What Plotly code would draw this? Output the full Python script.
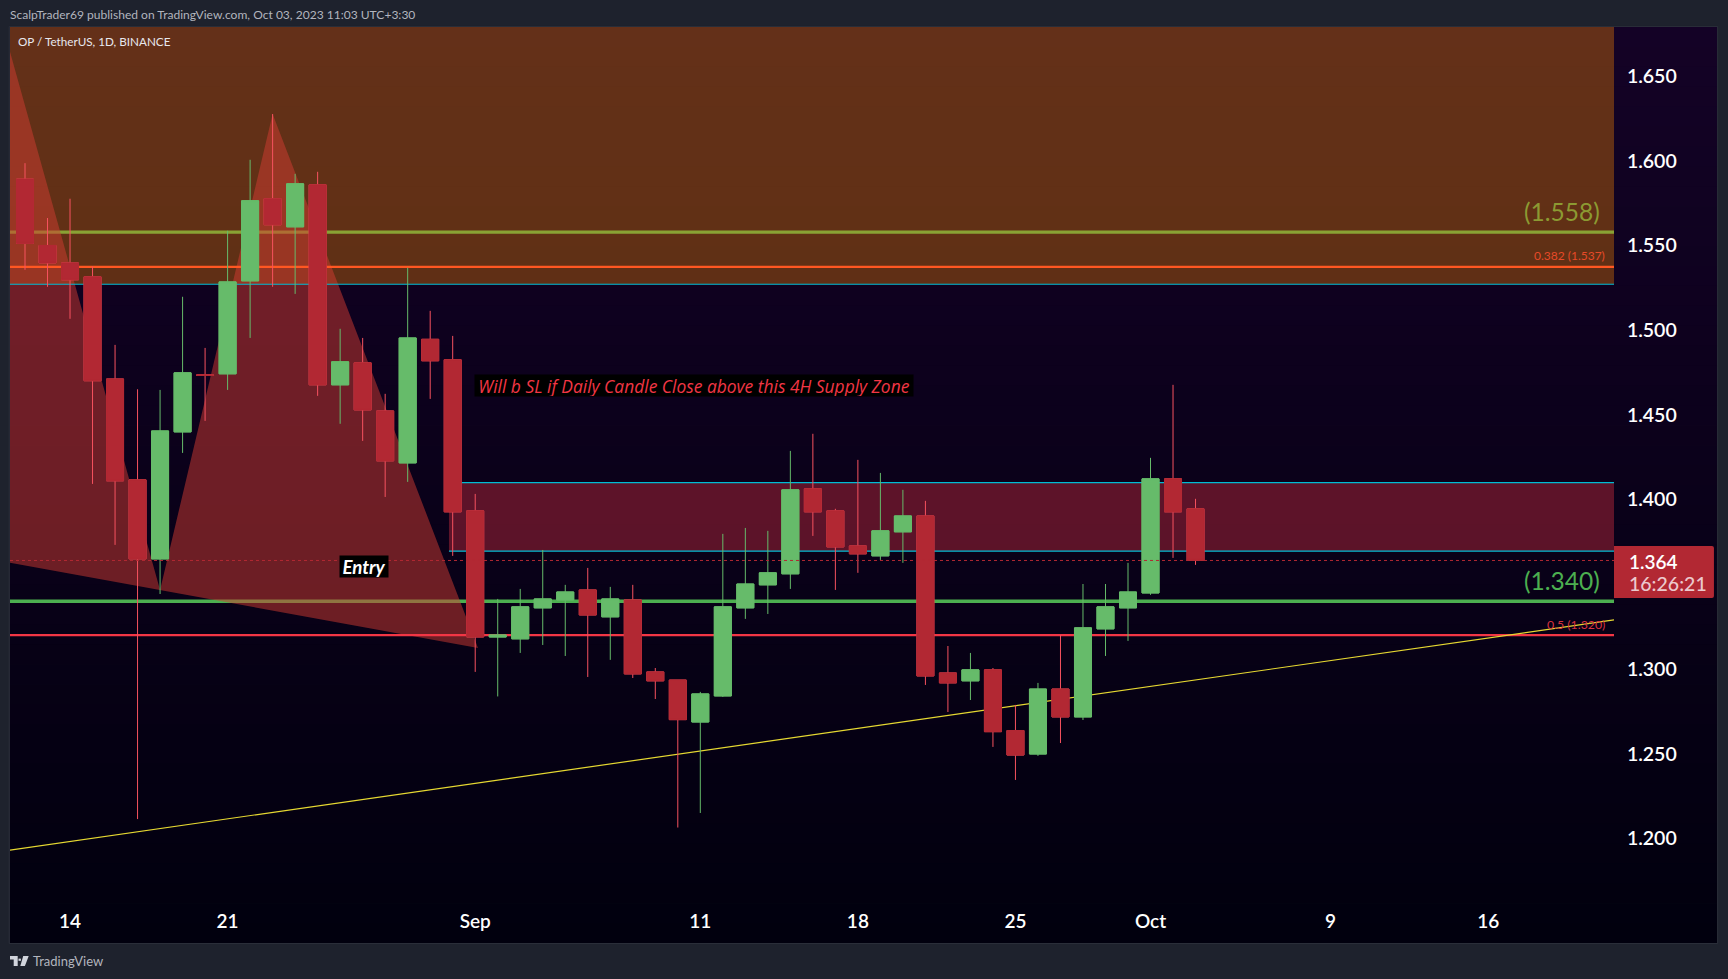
import plotly.graph_objects as go

# ---------- data ----------
dates = ["2023-08-%02d" % d for d in range(12, 32)] + ["2023-09-%02d" % d for d in range(1, 31)] + ["2023-10-%02d" % d for d in range(1, 4)]
highs = [1.5987,1.5663,1.5777,1.5377,1.4914,1.4652,1.4648,1.5198,1.4896,1.5588,1.6007,1.6277,1.5924,1.5936,1.5009,1.4955,1.4625,1.5369,1.5115,1.4967,
         1.4034,1.3414,1.3473,1.3703,1.3497,1.3597,1.3485,1.3497,1.3006,1.2935,1.2865,1.3798,1.3833,1.3816,1.4288,1.4389,1.3946,1.4235,1.4158,1.4058,
         1.3993,1.3136,1.3095,1.3006,1.2788,1.2918,1.3201,1.3502,1.3502,1.3627,1.4247,1.4678,1.4005]
opens = [1.5893,1.5501,1.5398,1.5316,1.4713,1.4117,1.3650,1.4400,1.4737,1.4743,1.5292,1.5777,1.5611,1.5859,1.4678,1.4808,1.4524,1.4217,1.4947,1.4826,
         1.3934,1.3189,1.3178,1.3361,1.3408,1.3467,1.3308,1.3408,1.2983,1.2935,1.2687,1.2841,1.3361,1.3497,1.3562,1.4064,1.3934,1.3727,1.3668,1.3810,
         1.3904,1.2977,1.2930,1.2995,1.2637,1.2498,1.2882,1.2717,1.3237,1.3361,1.3449,1.4123,1.3946]
closes = [1.5513,1.5398,1.5298,1.4702,1.4111,1.3650,1.4406,1.4749,1.4734,1.5286,1.5765,1.5623,1.5865,1.4678,1.4814,1.4530,1.4229,1.4955,1.4820,1.3928,
          1.3189,1.3201,1.3367,1.3414,1.3455,1.3319,1.3414,1.2971,1.2930,1.2701,1.2853,1.3367,1.3502,1.3568,1.4058,1.3928,1.3721,1.3680,1.3816,1.3904,
          1.2959,1.2918,1.2995,1.2630,1.2492,1.2882,1.2717,1.3243,1.3367,1.3455,1.4123,1.3928,1.3641]
lows = [1.5357,1.5257,1.5068,1.4093,1.3733,1.2114,1.3443,1.4276,1.4465,1.4648,1.4955,1.5257,1.5215,1.4613,1.4448,1.4347,1.4016,1.4105,1.4595,1.3668,
        1.2983,1.2838,1.3095,1.3142,1.3077,1.2953,1.3054,1.2947,1.2823,1.2064,1.2150,1.2835,1.3296,1.3325,1.3473,1.3786,1.3467,1.3568,1.3644,1.3627,
        1.2906,1.2746,1.2817,1.2540,1.2345,1.2487,1.2563,1.2699,1.3077,1.3166,1.3438,1.3656,1.3615]

y_ticks = [1.20,1.25,1.30,1.40,1.45,1.50,1.55,1.60,1.65]
y_tick_labels = ["1.200","1.250","1.300","1.400","1.450","1.500","1.550","1.600","1.650"]
x_ticks = ["2023-08-14","2023-08-21","2023-09-01","2023-09-11","2023-09-18","2023-09-25","2023-10-01","2023-10-09","2023-10-16"]
x_tick_labels = ["14","21","Sep","11","18","25","Oct","9","16"]

level_green_hi = 1.558
level_fib_382 = 1.5375
level_zone_hi_bottom = 1.5272
level_supply_top = 1.4101
level_supply_bottom = 1.3696
level_green_lo = 1.340
level_fib_5 = 1.320
last_price = 1.3641

pattern_dates = ["2023-08-11_08:00","2023-08-18","2023-08-23","2023-09-01_03:00","2023-08-11_08:00"]
pattern_prices = [1.6645,1.3467,1.6277,1.3124,1.3628]
trend_dates = ["2023-08-11 08:00","2023-10-21 14:10"]
trend_prices = [1.1931,1.3290]
supply_start = "2023-08-30 20:00"

# ---------- layout frame ----------
W, H = 1728, 979
L, R, T, B = 10.3, 1613.6, 27.3, 899.0
X_RANGE = ["2023-08-11 08:00", "2023-10-21 14:10"]
Y_RANGE = [1.1642, 1.6791]
FONT = "Lato"
def px(x): return (x - L) / (R - L)
def py(y): return 1 - (y - T) / (B - T)

shapes = []
# vertical background gradient of the chart panel
top_c, bot_c = (20, 2, 38), (1, 0, 14)
PT, PB, PR = 27.3, 943.0, 1716.7
N = 46
for i in range(N):
    f = i / (N - 1)
    c = tuple(round(a + (b - a) * f) for a, b in zip(top_c, bot_c))
    y0 = PT + (PB - PT) * i / N
    y1 = PT + (PB - PT) * (i + 1) / N + 0.6
    shapes.append(dict(type="rect", xref="paper", yref="paper", layer="below",
                       x0=px(L), x1=px(PR), y0=py(y0), y1=py(min(y1, PB)),
                       fillcolor="rgb(%d,%d,%d)" % c, line_width=0))
shapes.append(dict(type="rect", xref="paper", yref="paper", layer="below",
                   x0=px(9.5), x1=px(PR + 0.5), y0=py(26.8), y1=py(PB + 0.5),
                   line=dict(color="#2a2e39", width=1), fillcolor="rgba(0,0,0,0)"))

def hline(p, color, width, dash="solid", x0=X_RANGE[0]):
    return dict(type="line", xref="x", yref="y", layer="below", x0=x0, x1=X_RANGE[1], y0=p, y1=p,
                line=dict(color=color, width=width, dash=dash))

# green levels sit under the zone and the pattern, so they tint where covered
shapes.append(hline(level_green_hi, "#4caf50", 3.4))
shapes.append(hline(level_green_lo, "#4caf50", 3.4))
shapes.append(dict(type="rect", xref="x", yref="y", layer="below", x0=X_RANGE[0], x1=X_RANGE[1],
                   y0=level_zone_hi_bottom, y1=Y_RANGE[1] + 0.01,
                   fillcolor="rgba(255,137,0,0.34)", line_width=0))
shapes.append(dict(type="rect", xref="x", yref="y", layer="below", x0=supply_start, x1=X_RANGE[1],
                   y0=level_supply_bottom, y1=level_supply_top,
                   fillcolor="rgba(242,54,69,0.36)", line_width=0))
path = "M " + " L ".join("%s,%s" % (d, p) for d, p in zip(pattern_dates, pattern_prices)) + " Z"
shapes.append(dict(type="path", xref="x", yref="y", layer="below", path=path,
                   fillcolor="rgba(210,60,50,0.5)", line_width=0))
shapes.append(hline(level_fib_382, "#ff5722", 2.2))
shapes.append(hline(level_fib_5, "#f23645", 2.2))
shapes.append(hline(level_zone_hi_bottom, "#00bcd4", 1.2))
shapes.append(hline(level_supply_top, "#00bcd4", 1.2, x0=supply_start))
shapes.append(hline(level_supply_bottom, "#00bcd4", 1.2, x0=supply_start))
shapes.append(dict(type="line", xref="x", yref="y", layer="below",
                   x0=trend_dates[0], x1=trend_dates[1], y0=trend_prices[0], y1=trend_prices[1],
                   line=dict(color="#e6d832", width=1.2)))

# price tag on the axis, rounded on its right side
def tag_path(x0, y0, x1, y1, r):
    return ("M %f,%f L %f,%f Q %f,%f %f,%f L %f,%f Q %f,%f %f,%f L %f,%f Z" % (
        px(x0), py(y0), px(x1 - r), py(y0), px(x1), py(y0), px(x1), py(y0 + r),
        px(x1), py(y1 - r), px(x1), py(y1), px(x1 - r), py(y1), px(x0), py(y1)))
shapes.append(dict(type="path", xref="paper", yref="paper", layer="above",
                   path=tag_path(1613.6, 546, 1713.5, 598, 2), fillcolor="#b22833", line_width=0))

# TradingView mark in the footer
def poly(pts):
    return "M " + " L ".join("%f,%f" % (px(a), py(b)) for a, b in pts) + " Z"
for pts in ([(10.3,956),(18,956),(18,966),(14,966),(14,959.6),(10.3,959.6)],
            [(18.8,958.6),(21.2,958.6),(21.2,960.8),(18.8,960.8)],
            [(23.5,956),(29,956),(25.2,966),(20.6,966)]):
    shapes.append(dict(type="path", xref="paper", yref="paper", layer="above", path=poly(pts),
                       fillcolor="#d1d4dc", line_width=0))

RED_BODY, RED_WICK, GREEN_BODY, GREEN_WICK = "#b22833", "#f7525f", "#66bb6a", "#66bb6a"
body_hi = [max(o, c) for o, c in zip(opens, closes)]
body_lo = [min(o, c) for o, c in zip(opens, closes)]

wicks = go.Candlestick(x=dates, open=opens, high=highs, low=lows, close=closes,
                       increasing=dict(line=dict(color=GREEN_WICK, width=1), fillcolor=GREEN_BODY),
                       decreasing=dict(line=dict(color=RED_WICK, width=1), fillcolor=RED_BODY),
                       hoverinfo="skip", showlegend=False)
bodies = go.Candlestick(x=dates, open=opens, high=body_hi, low=body_lo, close=closes,
                        increasing=dict(line=dict(color=GREEN_BODY, width=1), fillcolor=GREEN_BODY),
                        decreasing=dict(line=dict(color=RED_BODY, width=1), fillcolor=RED_BODY),
                        hoverinfo="skip", showlegend=False)
last_line = go.Scatter(x=X_RANGE, y=[last_price, last_price], mode="lines",
                       line=dict(color="#b22833", width=1, dash="dot"), hoverinfo="skip", showlegend=False)

def note(text, xp, yp, size, color, anchor="left", family=FONT, **kw):
    d = dict(text=text, xref="paper", yref="paper", x=px(xp), y=py(yp), xanchor=anchor, yanchor="middle",
             showarrow=False, font=dict(family=family, size=size, color=color), borderpad=0)
    d.update(kw)
    return d

annotations = [
    note("ScalpTrader69 published on TradingView.com, Oct 03, 2023 11:03 UTC+3:30", 9.6, 14.5, 12.05, "#b2b5be"),
    note("OP / TetherUS, 1D, BINANCE", 17.6, 41.5, 11.7, "#e8e8ee"),
    note("TradingView", 32.5, 961, 13, "#b2b5be"),
    note("(1.558)", 1601, 212, 24.5, "#8c9a32", "right"),
    note("0.382 (1.537)", 1605.7, 255.7, 12, "#e64a28", "right"),
    note("(1.340)", 1601, 581, 24.5, "#4caf50", "right"),
    note("0.5 (1.320)", 1605.7, 625, 12.3, "#d8323f", "right"),
    dict(note("Will b SL if Daily Candle Close above this 4H Supply Zone", 694, 385.5, 17.4, "#f23645", "center", family="Open Sans"),
         width=438, height=21, bgcolor="#000000"),
    dict(note("<b>Entry</b>", 364, 566.5, 18.7, "#ffffff", "center"), width=48, height=21, bgcolor="#000000"),
    note("1.364", 1627.5, 561.7, 19, "#ffffff", font=dict(family=FONT, size=19, color="#ffffff", weight=600)),
    note("16:26:21", 1627.5, 584, 19.5, "#ecc9cd", font=dict(family=FONT, size=19.5, color="#ecc9cd", weight=500)),
]
for a in annotations:
    if "Will" in a["text"] or "Entry" in a["text"]:
        a["font"]["style"] = "italic"

fig = go.Figure([wicks, bodies, last_line])
fig.update_layout(
    width=W, height=H, autosize=False, paper_bgcolor="#1e222d", plot_bgcolor="rgba(0,0,0,0)",
    margin=dict(l=L, r=W - R, t=T, b=H - B, pad=0), boxgap=0.1, boxgroupgap=0.16, showlegend=False,
    shapes=shapes, annotations=annotations, hovermode=False,
    xaxis=dict(type="date", range=X_RANGE, rangeslider=dict(visible=False), showgrid=False, zeroline=False,
               showline=False, tickmode="array", tickvals=x_ticks, ticktext=x_tick_labels,
               ticks="outside", ticklen=5, tickcolor="rgba(0,0,0,0)",
               tickfont=dict(family=FONT, size=19, color="#ffffff", weight=600)),
    yaxis=dict(side="right", range=Y_RANGE, showgrid=False, zeroline=False, showline=False,
               tickmode="array", tickvals=y_ticks, ticktext=y_tick_labels,
               ticks="outside", ticklen=8, tickcolor="rgba(0,0,0,0)",
               tickfont=dict(family=FONT, size=19.5, color="#ffffff", weight=600)),
)
fig.write_html("out.html", config=dict(displayModeBar=False, responsive=False),
               post_script="document.body.style.margin='0';document.documentElement.style.overflow='hidden';")
